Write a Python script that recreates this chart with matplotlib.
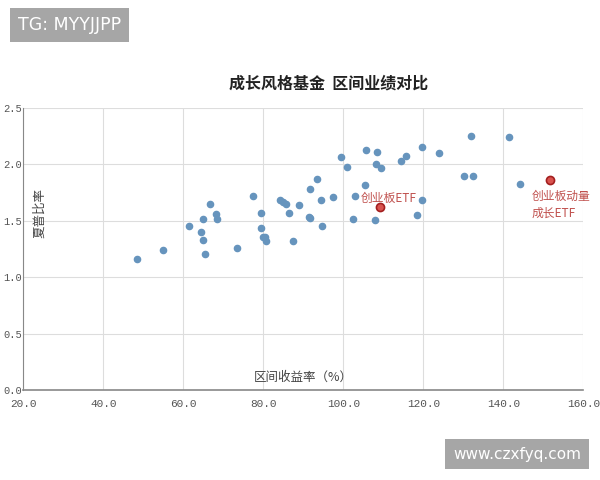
import matplotlib.pyplot as plt

plt.rcParams['font.family'] = ['Noto Sans CJK SC', 'DejaVu Sans']

# 区间收益率 (%) / 夏普比率 of the growth-style funds
fund_return = [48.4, 55.0, 61.5, 64.4, 64.9, 64.9, 65.4, 66.6, 68.2, 68.4,
               73.4, 77.5, 79.3, 79.3, 80.0, 80.5, 80.6, 84.2, 85.0, 85.7,
               86.4, 87.3, 88.9, 91.3, 91.7, 91.7, 93.4, 94.4, 94.7, 97.4,
               99.3, 101.0, 102.4, 102.8, 105.4, 105.7, 107.9, 108.2, 108.3, 109.5,
               114.4, 115.6, 118.5, 119.7, 119.7, 124.0, 130.2, 132.5, 131.9, 141.3,
               144.2]
fund_sharpe = [1.16, 1.24, 1.46, 1.40, 1.33, 1.52, 1.21, 1.65, 1.56, 1.52,
               1.26, 1.72, 1.57, 1.44, 1.36, 1.36, 1.32, 1.69, 1.67, 1.65,
               1.57, 1.32, 1.64, 1.535, 1.525, 1.78, 1.87, 1.69, 1.46, 1.71,
               2.07, 1.975, 1.52, 1.72, 1.815, 2.125, 1.51, 2.00, 2.11, 1.97,
               2.03, 2.075, 1.55, 2.155, 1.69, 2.10, 1.895, 1.895, 2.255, 2.245,
               1.825]

etf_names = ['创业板ETF', '创业板动量\n成长ETF']
etf_return = [109.1, 151.6]
etf_sharpe = [1.62, 1.865]

x_ticks = [20, 40, 60, 80, 100, 120, 140, 160]
y_ticks = [0.0, 0.5, 1.0, 1.5, 2.0, 2.5]

fig = plt.figure(figsize=(6, 4.8), dpi=100)
ax = fig.add_axes([0.0389, 0.1865, 0.9333, 0.5885])

ax.scatter(fund_return, fund_sharpe, s=20, color='#6694bd', zorder=3)
ax.scatter(etf_return, etf_sharpe, s=34, color='#d9534f', edgecolors='#a31f1f',
           linewidths=1.2, zorder=4)

# ETF labels
ax.text(etf_return[0] + 2.3, etf_sharpe[0] + 0.075, etf_names[0], color='#c0504d',
        fontsize=8.5, ha='center', va='center')
ax.text(etf_return[1] - 4.5, etf_sharpe[1] - 0.22, etf_names[1], color='#c0504d',
        fontsize=8.5, ha='left', va='center', linespacing=1.4)

ax.set_xlim(20, 160)
ax.set_ylim(0, 2.5)
ax.set_xticks(x_ticks)
ax.set_yticks(y_ticks)
ax.set_xticklabels([f'{v:.1f}' for v in x_ticks], family='Liberation Mono',
                   fontsize=8, color='#555555')
ax.set_yticklabels([f'{v:.1f}' for v in y_ticks], family='Liberation Mono',
                   fontsize=7.5, color='#555555')
ax.tick_params(length=0, pad=6)
ax.tick_params(axis='y', pad=1)

ax.grid(True, color='#dddddd', linewidth=0.8)
ax.set_axisbelow(True)
for side in ['top', 'right']:
    ax.spines[side].set_visible(False)
ax.spines['left'].set_color('#888888')
ax.spines['bottom'].set_color('#888888')
ax.spines['bottom'].set_linewidth(1.2)

ax.text(0.5, 0.045, '区间收益率（%）', transform=ax.transAxes, ha='center',
        va='center', fontsize=9, color='#444444')
ax.text(0.03, 0.63, '夏普比率', transform=ax.transAxes, rotation=90,
        ha='center', va='center', fontsize=9, color='#444444')

fig.text(0.547, 0.825, '成长风格基金  区间业绩对比', ha='center', va='center',
         fontsize=11.5, fontweight='bold', color='#222222')

# watermark tags
fig.text(0.03, 0.948, 'TG: MYYJJPP', ha='left', va='center', fontsize=12.5,
         color='white', family='DejaVu Sans',
         bbox=dict(boxstyle='square,pad=0.45', facecolor='#a6a6a6', edgecolor='none'))
fig.text(0.755, 0.0535, 'www.czxfyq.com', ha='left', va='center', fontsize=11,
         color='white', family='DejaVu Sans',
         bbox=dict(boxstyle='square,pad=0.5', facecolor='#a6a6a6', edgecolor='none'))

fig.savefig('out.png', dpi=100)
